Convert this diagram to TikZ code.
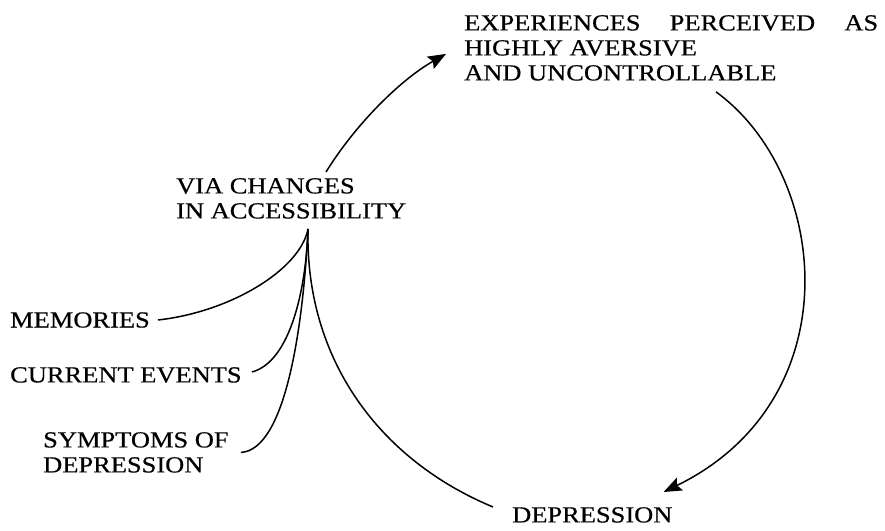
\documentclass[tikz,border=0pt]{standalone}
\usepackage{fontspec}
\setmainfont{Liberation Serif}[FakeStretch=1.15,FakeBold=0.5]
\usetikzlibrary{arrows.meta}

\begin{document}
\begin{tikzpicture}[x=1pt,y=1pt]

\tikzset{txt/.style = {inner sep=0pt, align=left, font=\fontsize{23pt}{25pt}\selectfont}}
\tikzset{edge/.style = {line width=1.5pt}}
\tikzset{arr/.style = {edge, -{Stealth[length=18pt,width=14pt,inset=3pt]}}}
\useasboundingbox (0,0) rectangle (885,530);
%texts
\node[txt, anchor=north west] (exper) at (464,515) {\makebox[414pt][s]{EXPERIENCES PERCEIVED AS}\\HIGHLY AVERSIVE\\AND UNCONTROLLABLE};
\node[txt, anchor=north west] (via) at (176,352) {VIA CHANGES\\IN ACCESSIBILITY};
\node[txt, anchor=west] (memories) at (10,210) {MEMORIES};
\node[txt, anchor=west] (current) at (10,155) {CURRENT EVENTS};
\node[txt, anchor=north west] (symptoms) at (43,98) {SYMPTOMS OF\\DEPRESSION};
\node[txt, anchor=north west] (depression) at (512,23) {DEPRESSION};
\coordinate (hub) at (308,301);
%edges
\draw [arr] ([xshift=150pt,yshift=6pt]via.north west) .. controls (355,405) and (400,450) .. ([xshift=-18pt,yshift=-6pt]exper.west);
\draw [arr] ([xshift=252pt,yshift=-11pt]exper.south west) .. controls (830,355) and (852,130) .. ([xshift=-9pt,yshift=15pt]depression.north east);
\draw [edge] ([xshift=8pt]memories.east) .. controls (230,218) and (300,260) .. (hub);
\draw [edge] ([xshift=10pt,yshift=3pt]current.east) .. controls (290,168) and (306,240) .. (hub);
\draw [edge] ([xshift=12pt]symptoms.east) .. controls (285,80) and (303,200) .. (hub);
\draw [edge] (hub) .. controls (305,170) and (380,70) .. ([xshift=-19pt]depression.north west);

\end{tikzpicture}
\end{document}
